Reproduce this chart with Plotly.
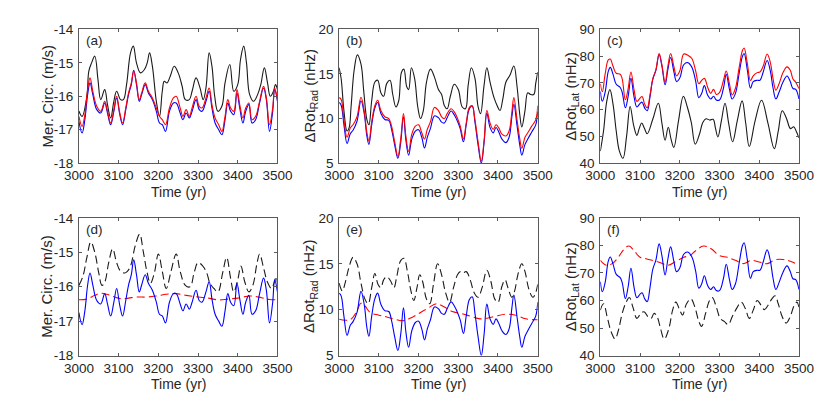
import plotly.graph_objects as go
from plotly.subplots import make_subplots

W, H = 830, 394

# ---------- data ----------
# (a)/(d) meridional circulation
t_a_black = [3000, 3008, 3020, 3025, 3032, 3040, 3048, 3055, 3065, 3072, 3080, 3088, 3095, 3105, 3112,
             3120, 3130, 3137, 3145, 3155, 3165, 3172, 3178, 3185, 3195, 3203, 3210, 3215, 3222, 3230,
             3240, 3250, 3260, 3268, 3278, 3285, 3295, 3305, 3313, 3320, 3328, 3335, 3342, 3350, 3360,
             3368, 3380, 3390, 3400, 3407, 3415, 3422, 3430, 3440, 3450, 3458, 3467, 3475, 3482, 3490,
             3495, 3500]
a_black = [-16.44, -16.6, -16.0, -15.25, -15.0, -14.8, -15.5, -16.1, -15.8, -16.25, -16.65, -16.15, -15.85,
           -16.1, -16.1, -15.65, -14.7, -14.5, -15.0, -15.3, -15.2, -15.0, -14.7, -15.1, -16.15, -16.6,
           -15.85, -15.55, -15.6, -15.4, -15.1, -15.3, -15.7, -16.1, -16.1, -15.85, -15.45, -15.75, -16.1,
           -15.75, -14.7, -15.1, -16.0, -16.45, -16.3, -15.6, -15.05, -15.85, -15.65, -14.9, -14.5, -15.0,
           -15.95, -16.15, -15.95, -15.65, -15.15, -15.6, -16.0, -15.85, -15.65, -15.8]

t_a = [3000, 3008, 3015, 3022, 3028, 3035, 3045, 3055, 3065, 3072, 3080, 3088, 3095, 3103, 3110, 3118,
       3125, 3132, 3138, 3145, 3152, 3158, 3167, 3175, 3185, 3195, 3203, 3210, 3218, 3228, 3238, 3245,
       3255, 3262, 3270, 3278, 3285, 3295, 3303, 3310, 3320, 3328, 3335, 3343, 3352, 3360, 3368, 3375,
       3382, 3390, 3398, 3405, 3413, 3420, 3428, 3436, 3445, 3455, 3465, 3472, 3480, 3488, 3493, 3500]
a_red = [-16.6, -16.9, -16.55, -15.8, -15.45, -15.85, -16.3, -16.45, -16.15, -16.45, -16.8, -16.4, -16.0,
         -16.5, -16.8, -16.35, -15.9, -15.6, -15.25, -15.6, -16.1, -15.9, -15.6, -15.85, -16.05, -16.35,
         -16.6, -16.7, -16.85, -16.35, -16.05, -16.0, -16.35, -16.6, -16.4, -16.6, -16.35, -16.0, -16.3,
         -16.35, -16.05, -15.75, -16.25, -16.65, -16.85, -17.05, -16.6, -16.1, -16.35, -16.45, -15.8,
         -16.25, -16.65, -16.35, -16.2, -16.7, -16.6, -16.15, -15.7, -16.05, -16.85, -16.35, -15.75, -16.1]
a_blue = [-16.75, -17.1, -16.7, -15.95, -15.6, -15.95, -16.4, -16.5, -16.2, -16.5, -16.85, -16.45, -16.05,
          -16.55, -16.85, -16.4, -15.95, -15.65, -15.22, -15.65, -16.15, -15.95, -15.65, -15.9, -16.1,
          -16.45, -16.8, -16.85, -17.05, -16.45, -16.2, -16.2, -16.5, -16.7, -16.5, -16.65, -16.45, -16.1,
          -16.4, -16.45, -16.15, -15.85, -16.35, -16.8, -17.0, -17.15, -16.7, -16.2, -16.45, -16.55, -15.9,
          -16.35, -16.8, -16.45, -16.25, -16.8, -16.7, -16.2, -15.75, -16.1, -17.05, -16.45, -15.8, -16.15]

t_d_black = [3000, 3010, 3020, 3030, 3040, 3050, 3058, 3065, 3075, 3085, 3095, 3105, 3115, 3122, 3130,
             3142, 3153, 3162, 3172, 3180, 3190, 3200, 3210, 3220, 3232, 3245, 3255, 3268, 3280, 3290,
             3300, 3312, 3322, 3330, 3340, 3350, 3362, 3372, 3382, 3390, 3400, 3408, 3418, 3428, 3438,
             3448, 3455, 3465, 3475, 3485, 3492, 3497, 3500]
d_black = [-15.96, -15.7, -15.15, -14.7, -15.0, -15.6, -15.96, -15.87, -15.3, -14.9, -15.3, -15.55, -15.6,
           -15.55, -15.4, -14.8, -14.47, -14.97, -15.6, -15.9, -15.6, -15.05, -15.55, -16.05, -15.55,
           -15.05, -15.55, -15.96, -16.0, -15.6, -15.3, -15.4, -15.6, -15.9, -16.05, -16.15, -15.6, -15.15,
           -15.75, -16.15, -15.8, -15.4, -15.87, -16.15, -15.96, -15.35, -15.05, -15.45, -15.87, -16.05,
           -15.87, -15.7, -15.95]
t_d_red = [3000, 3020, 3040, 3055, 3070, 3090, 3107, 3125, 3145, 3170, 3195, 3220, 3245, 3270, 3300,
           3325, 3350, 3375, 3400, 3432, 3460, 3480, 3500]
d_red = [-16.38, -16.36, -16.25, -16.19, -16.22, -16.3, -16.35, -16.33, -16.3, -16.3, -16.27, -16.22,
         -16.2, -16.25, -16.3, -16.33, -16.38, -16.36, -16.33, -16.27, -16.32, -16.37, -16.38]

# (b)/(e) radial rotation contrast
t_b_black = [3000, 3005, 3012, 3020, 3025, 3030, 3038, 3046, 3055, 3062, 3070, 3075, 3082, 3090, 3097,
             3105, 3112, 3120, 3128, 3135, 3143, 3150, 3157, 3163, 3170, 3175, 3182, 3190, 3198, 3205,
             3212, 3220, 3230, 3240, 3250, 3258, 3265, 3272, 3280, 3290, 3300, 3310, 3318, 3325, 3333,
             3342, 3350, 3356, 3365, 3372, 3380, 3390, 3398, 3405, 3412, 3420, 3430, 3440, 3448, 3455,
             3460, 3468, 3475, 3482, 3490, 3495, 3500]
b_black = [15.7, 14.5, 10.9, 8.6, 8.95, 11.3, 15.5, 17.15, 16.1, 13.05, 9.85, 9.3, 12.0, 14.1, 14.3, 12.9,
           12.5, 13.95, 14.3, 12.7, 11.3, 12.0, 15.2, 15.55, 13.6, 13.25, 15.7, 14.5, 11.3, 10.0, 10.9,
           14.1, 15.55, 14.65, 13.25, 12.7, 11.45, 11.1, 12.5, 13.85, 13.25, 11.3, 11.1, 13.75, 15.7, 14.5,
           11.3, 10.55, 13.75, 15.7, 14.1, 12.35, 11.45, 10.9, 12.15, 14.1, 14.85, 15.9, 13.6, 10.4, 9.05,
           10.9, 12.9, 12.7, 12.7, 13.95, 15.2]

t_b = [3000, 3005, 3012, 3020, 3028, 3035, 3045, 3055, 3063, 3070, 3075, 3082, 3090, 3097, 3105, 3115,
       3125, 3132, 3140, 3148, 3155, 3162, 3168, 3175, 3183, 3192, 3200, 3208, 3215, 3222, 3230, 3240,
       3250, 3258, 3265, 3272, 3282, 3290, 3298, 3305, 3313, 3320, 3328, 3335, 3342, 3350, 3358, 3365,
       3372, 3380, 3388, 3395, 3402, 3410, 3420, 3428, 3435, 3440, 3448, 3455, 3460, 3468, 3475, 3485,
       3495, 3500]
b_red = [12.35, 12.15, 9.85, 7.9, 8.95, 9.3, 10.2, 12.4, 10.9, 8.4, 7.5, 9.65, 11.45, 12.05, 10.9, 10.2,
         10.0, 9.15, 7.35, 5.75, 7.7, 10.55, 8.05, 6.3, 8.25, 9.15, 9.3, 8.4, 7.7, 8.8, 9.65, 11.25, 10.9,
         10.2, 10.0, 10.55, 11.1, 10.75, 10.0, 9.15, 7.7, 9.5, 11.25, 11.45, 9.85, 7.35, 5.2, 7.55, 10.9,
         9.5, 8.8, 9.3, 8.95, 8.25, 8.05, 8.6, 10.75, 12.35, 9.85, 7.7, 6.65, 7.9, 8.4, 9.15, 9.85, 11.45]
b_blue = [11.8, 11.5, 9.3, 7.2, 8.3, 8.7, 9.7, 12.0, 10.6, 8.0, 7.1, 9.3, 11.2, 11.8, 10.6, 9.9, 9.8,
          8.8, 7.0, 5.55, 7.3, 10.2, 7.6, 5.9, 7.7, 8.6, 8.75, 7.9, 6.7, 7.9, 8.9, 10.3, 10.1, 9.6, 9.5,
          10.1, 10.85, 10.4, 9.7, 8.85, 7.4, 9.3, 11.1, 11.4, 9.6, 7.0, 5.0, 7.3, 10.6, 9.0, 8.4, 9.0, 8.5,
          7.7, 7.3, 7.9, 10.2, 11.6, 9.2, 7.0, 5.9, 7.1, 7.7, 8.5, 9.3, 10.8]

t_e_black = [3000, 3008, 3015, 3025, 3035, 3045, 3055, 3065, 3073, 3082, 3090, 3098, 3105, 3112, 3120,
             3130, 3138, 3145, 3155, 3163, 3172, 3180, 3188, 3196, 3203, 3210, 3220, 3228, 3238, 3248,
             3258, 3268, 3278, 3288, 3298, 3305, 3312, 3320, 3330, 3340, 3350, 3360, 3372, 3382, 3392,
             3400, 3410, 3418, 3425, 3435, 3442, 3450, 3460, 3468, 3478, 3488, 3495, 3500]
e_black = [12.9, 12.05, 12.9, 14.65, 15.7, 15.0, 12.9, 11.15, 10.65, 12.4, 13.95, 12.75, 12.4, 13.25,
           13.6, 13.1, 12.4, 13.6, 15.35, 15.6, 14.15, 12.2, 11.0, 12.4, 13.8, 13.1, 11.15, 10.65, 12.9,
           15.0, 13.8, 11.85, 10.8, 12.4, 13.8, 14.15, 14.0, 14.15, 13.25, 11.85, 11.35, 12.4, 14.3, 13.1,
           11.15, 10.8, 12.55, 13.25, 12.4, 11.35, 12.05, 13.8, 15.0, 14.15, 12.2, 11.35, 11.85, 12.75]
t_e_red = [3000, 3015, 3028, 3043, 3055, 3065, 3078, 3100, 3120, 3140, 3160, 3180, 3205, 3225, 3245,
           3265, 3285, 3305, 3330, 3355, 3375, 3395, 3420, 3445, 3470, 3500]
e_red = [8.95, 8.85, 8.9, 9.7, 10.7, 10.4, 9.7, 9.4, 9.2, 8.95, 8.8, 9.1, 9.7, 10.2, 10.65, 10.3, 9.8,
         9.6, 9.3, 9.0, 9.1, 9.3, 9.5, 9.4, 9.0, 8.9]

# (c)/(f) latitudinal rotation contrast
t_c = [3000, 3005, 3012, 3020, 3025, 3032, 3040, 3050, 3055, 3063, 3070, 3077, 3085, 3092, 3100, 3105,
       3112, 3118, 3125, 3132, 3140, 3148, 3155, 3163, 3170, 3177, 3185, 3192, 3200, 3210, 3220, 3230,
       3240, 3248, 3255, 3262, 3270, 3278, 3285, 3292, 3300, 3310, 3317, 3325, 3332, 3340, 3350, 3358,
       3362, 3370, 3378, 3385, 3395, 3402, 3410, 3420, 3428, 3435, 3442, 3450, 3460, 3470, 3478, 3485,
       3492, 3500]
c_red = [69.7, 66.7, 73.25, 78.6, 78.9, 76.2, 73.6, 73.25, 71.5, 63.7, 67.9, 74.1, 67.3, 63.1, 64.3,
         64.9, 61.9, 60.7, 65.5, 71.5, 75.0, 81.0, 76.85, 70.25, 76.2, 81.0, 76.2, 72.65, 74.45, 80.8,
         80.4, 79.2, 74.45, 69.7, 70.9, 71.7, 68.5, 66.1, 67.6, 65.7, 66.4, 70.9, 74.45, 69.7, 65.5, 67.9,
         76.2, 82.2, 83.05, 77.4, 70.9, 72.65, 73.85, 74.1, 76.2, 80.8, 77.7, 71.5, 67.3, 69.7, 73.85,
         76.0, 74.8, 71.5, 70.25, 67.9]
c_blue = [66.8, 63.2, 66.5, 74.3, 75.8, 73.2, 69.5, 68.3, 66.5, 60.7, 65.0, 71.7, 64.7, 61.0, 62.3,
          62.8, 60.5, 59.6, 64.7, 71.3, 74.8, 80.6, 76.3, 69.3, 75.0, 79.5, 74.3, 70.5, 71.8, 76.8, 77.6,
          76.0, 70.7, 64.5, 66.0, 69.0, 65.5, 64.0, 65.0, 63.6, 63.6, 68.0, 73.2, 67.7, 64.0, 66.0, 74.0,
          80.0, 81.0, 75.0, 68.0, 70.5, 71.0, 71.0, 74.0, 78.4, 74.5, 68.0, 64.0, 66.5, 70.3, 72.6, 70.6,
          67.9, 67.6, 64.0]
t_c_black = [3000, 3008, 3016, 3024, 3032, 3040, 3048, 3057, 3066, 3075, 3084, 3092, 3098, 3104, 3111,
             3118, 3132, 3146, 3155, 3163, 3171, 3178, 3185, 3197, 3209, 3219, 3229, 3239, 3250, 3258,
             3266, 3276, 3284, 3290, 3296, 3305, 3314, 3323, 3333, 3345, 3357, 3366, 3375, 3390, 3406,
             3422, 3438, 3448, 3458, 3468, 3479, 3487, 3493, 3500]
c_black = [44.5, 52, 63, 67.5, 62, 52, 44.5, 41.8, 50, 61.2, 54, 50.4, 53, 55.0, 53, 51.0, 56.4, 62.4,
           55, 48.6, 53.4, 49, 45.9, 56, 65.0, 61, 55.2, 47.1, 51, 55.2, 56.6, 56.1, 56.4, 53, 49.8, 56,
           62.4, 55, 48.0, 56, 63.3, 55, 46.2, 56, 63.5, 55, 45.4, 52, 59.6, 57, 52.9, 53.6, 52, 49.5]

t_f_red = [3000, 3015, 3030, 3045, 3060, 3072, 3085, 3100, 3115, 3130, 3150, 3170, 3190, 3210, 3225,
           3240, 3260, 3280, 3300, 3320, 3340, 3360, 3380, 3400, 3420, 3440, 3460, 3480, 3500]
f_red = [74.6, 72.8, 73.4, 75.7, 78.7, 79.8, 78.1, 75.7, 75.2, 74.6, 73.8, 72.8, 74.2, 75.7, 76.3, 78.1,
         79.8, 78.7, 76.3, 75.7, 74.6, 73.4, 74.6, 74.0, 73.4, 74.8, 74.9, 74.2, 72.8]
t_f_black = [3000, 3008, 3018, 3028, 3037, 3045, 3055, 3065, 3073, 3082, 3092, 3102, 3110, 3120, 3128,
             3135, 3143, 3152, 3161, 3172, 3182, 3190, 3200, 3207, 3217, 3228, 3238, 3248, 3255, 3265,
             3275, 3282, 3292, 3302, 3312, 3322, 3332, 3345, 3355, 3365, 3375, 3385, 3395, 3405, 3413,
             3422, 3432, 3440, 3448, 3458, 3468, 3478, 3488, 3495, 3500]
f_black = [56.5, 58.8, 53.5, 48.3, 46.0, 48.9, 55.3, 59.4, 61.1, 57.6, 53.5, 55.3, 55.9, 54.1, 53.5,
           55.3, 54.1, 49.5, 46.0, 49.5, 56.5, 59.4, 56.5, 54.7, 58.8, 60.6, 57.6, 52.4, 50.6, 55.3, 60.0,
           61.1, 57.6, 53.5, 52.4, 51.2, 54.1, 57.6, 59.4, 57.1, 53.5, 56.5, 60.0, 58.2, 56.7, 58.2, 60.6,
           61.7, 58.8, 54.1, 51.8, 54.1, 58.2, 59.4, 57.6]

# axis ticks / labels
x_ticks = [3000, 3100, 3200, 3300, 3400, 3500]
mer_ticks = [-18, -17, -16, -15, -14]
mer_labels = ["-18", "-17", "-16", "-15", "-14"]
rad_ticks = [5, 10, 15, 20]
lat_ticks = [40, 50, 60, 70, 80, 90]
panel_letters = ["(a)", "(b)", "(c)", "(d)", "(e)", "(f)"]
y_titles = ["Mer. Circ. (m/s)", "ΔRot<sub>Rad</sub> (nHz)", "ΔRot<sub>Lat</sub> (nHz)"]

FONT = "Liberation Sans, Arial, sans-serif"
TXT = "#262626"
FRAME = "#5a5a5a"
BLACK, RED, BLUE = "#1a1a1a", "#ff0000", "#0000ff"
DASH = "8px,4px"

fig = make_subplots(rows=2, cols=3)


def line(x, y, color, row, col, dash="solid", width=1.1):
    fig.add_trace(go.Scatter(x=x, y=y, mode="lines", showlegend=False,
                             line=dict(color=color, width=width, dash=dash,
                                       shape="spline", smoothing=1.1)),
                  row=row, col=col)


# top row: solid lines
line(t_a_black, a_black, BLACK, 1, 1)
line(t_a, a_blue, BLUE, 1, 1)
line(t_a, a_red, RED, 1, 1)
line(t_b_black, b_black, BLACK, 1, 2)
line(t_b, b_blue, BLUE, 1, 2)
line(t_b, b_red, RED, 1, 2)
line(t_c_black, c_black, BLACK, 1, 3)
line(t_c, c_blue, BLUE, 1, 3)
line(t_c, c_red, RED, 1, 3)

# bottom row: dashed comparisons
line(t_d_black, d_black, BLACK, 2, 1, dash=DASH)
line(t_d_red, d_red, RED, 2, 1, dash=DASH)
line(t_a, a_blue, BLUE, 2, 1)
line(t_e_black, e_black, BLACK, 2, 2, dash=DASH)
line(t_e_red, e_red, RED, 2, 2, dash=DASH)
line(t_b, b_blue, BLUE, 2, 2)
line(t_f_black, f_black, BLACK, 2, 3, dash=DASH)
line(t_f_red, f_red, RED, 2, 3, dash=DASH)
line(t_c, c_blue, BLUE, 2, 3)

# panel boxes in pixels (left, right, top, bottom)
col_px = [(58, 264), (328, 534), (599, 805)]
row_px = [(15, 154), (211, 354)]
y_ranges = [[-18, -14], [5, 20], [40, 90]]
y_tickvals = [mer_ticks, rad_ticks, lat_ticks]
y_ticktext = [mer_labels, [str(v) for v in rad_ticks], [str(v) for v in lat_ticks]]
ytitle_x = [25, 298, 569]

axis_common = dict(showline=True, linecolor=FRAME, linewidth=1, mirror="ticks",
                   ticks="inside", ticklen=3, tickcolor=FRAME, showgrid=False,
                   zeroline=False, tickfont=dict(family=FONT, size=13.5, color=TXT))

annotations = []
for r in range(2):
    for c in range(3):
        idx = r * 3 + c + 1
        x0, x1 = col_px[c]
        y0, y1 = row_px[r]
        fig.update_xaxes(row=r + 1, col=c + 1, domain=[x0 / W, x1 / W], range=[3000, 3500],
                         tickvals=x_ticks, **axis_common)
        fig.update_yaxes(row=r + 1, col=c + 1, domain=[1 - y1 / H, 1 - y0 / H], range=y_ranges[c],
                         tickvals=y_tickvals[c], ticktext=y_ticktext[c], ticklabelstandoff=2,
                         **axis_common)
        annotations.append(dict(text=panel_letters[idx - 1], xref="paper", yref="paper",
                                x=(x0 + 5) / W, y=1 - (y0 + 12) / H, xanchor="left",
                                yanchor="middle", showarrow=False,
                                font=dict(family=FONT, size=13.5, color=TXT)))
        annotations.append(dict(text="Time (yr)", xref="paper", yref="paper",
                                x=(x0 + x1) / 2 / W, y=1 - (y1 + 30) / H, xanchor="center",
                                yanchor="middle", showarrow=False,
                                font=dict(family=FONT, size=14, color=TXT)))
        annotations.append(dict(text=y_titles[c], xref="paper", yref="paper",
                                x=ytitle_x[c] / W, y=1 - (y0 + y1) / 2 / H, xanchor="center",
                                yanchor="middle", textangle=-90, showarrow=False,
                                font=dict(family=FONT, size=15, color=TXT)))

fig.update_layout(width=W, height=H, margin=dict(l=0, r=0, t=0, b=0),
                  plot_bgcolor="white", paper_bgcolor="white",
                  annotations=annotations, showlegend=False)

fig.write_html("out.html")
